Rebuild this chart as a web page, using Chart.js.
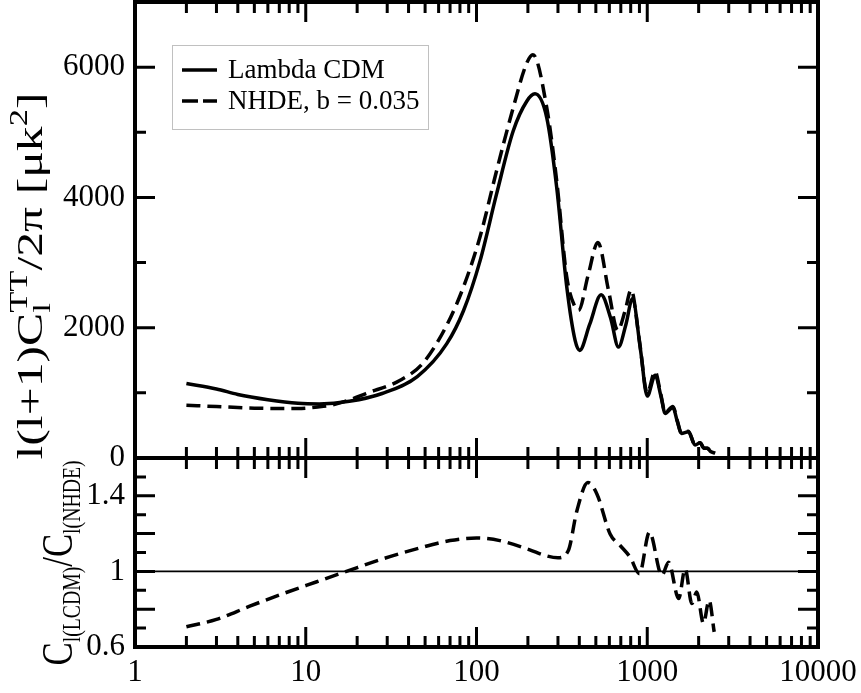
<!DOCTYPE html>
<html>
<head>
<meta charset="utf-8">
<script src="https://cdn.jsdelivr.net/npm/chart.js@4.4.1/dist/chart.umd.min.js"></script>
<style>
    body { margin: 0; background: #ffffff; }
    #wrap { width: 861px; height: 693px; }
</style>
</head>
<body>
<div id="wrap"><canvas id="chartjs-0" width="861" height="693"></canvas></div>
<script>
"use strict";

/* multipole l and l(l+1)C_l/2pi for Lambda CDM (solid) */
const ellLcdm = [2, 3, 4, 6, 9, 12, 18, 28, 45, 67, 84, 105, 131, 164, 197, 220, 258, 295, 338, 378, 402,
    460, 537, 610, 678, 750, 819, 914, 1000, 1113, 1200, 1274, 1413, 1500, 1585, 1741, 1907, 2040, 2150, 2250, 2350, 2500];
const clLcdm = [1143, 1060, 975, 895, 840, 830, 870, 990, 1250, 1755, 2264, 3030, 4050, 5019, 5477, 5590, 5222, 4151, 2620, 1805, 1652,
    2050, 2505, 2150, 1703, 2050, 2443, 1650, 950, 1270, 960, 684, 776, 560, 378, 403, 199, 234, 150, 150, 100, 75];

/* same for NHDE, b = 0.035 (dashed) */
const ellNhde = [2, 3, 5, 9, 12, 14, 18, 22.5, 35.5, 48.7, 67, 84, 105, 131, 164, 197, 214, 258, 295, 338, 378, 396,
    450, 514, 593, 672, 740, 805, 900, 1000, 1110, 1200, 1274, 1413, 1500, 1585, 1741, 1907, 2040, 2150, 2250, 2350, 2500];
const clNhde = [811, 790, 765, 760, 785, 810, 890, 990, 1190, 1460, 2040, 2630, 3400, 4406, 5375, 6064, 6192, 5375, 4253, 2774, 2314, 2266,
    2800, 3310, 2575, 1958, 2250, 2581, 1800, 1000, 1330, 980, 700, 790, 570, 380, 410, 200, 235, 150, 150, 100, 75];

/* ratio panel */
const ellRatio = [2, 3, 4.7, 7.4, 11.5, 17.3, 28.4, 44.5, 70, 100, 137, 205, 250, 300, 345, 387, 449, 507, 606, 694, 794,
    900, 1030, 1218, 1333, 1527, 1667, 1825, 1950, 2133, 2303, 2466];
const ratioVals = [0.707, 0.746, 0.816, 0.883, 0.944, 1.0, 1.067, 1.119, 1.163, 1.177, 1.163, 1.114, 1.085, 1.072, 1.11, 1.32, 1.47, 1.41, 1.198, 1.137, 1.075,
    0.988, 1.207, 0.979, 1.049, 0.856, 1.014, 0.83, 0.891, 0.725, 0.847, 0.68];
const unityLevel = 1;

/* axes */
const xRange = [1, 10000];
const xTickLabels = ["1", "10", "100", "1000", "10000"];
const topRange = [0, 7000];
const topTickLabels = ["0", "2000", "4000", "6000"];
const bottomRange = [0.6, 1.6];
const bottomTickLabels = ["0.6", "1", "1.4"];

const serif = "'Liberation Serif', 'Times New Roman', serif";

function pts(xs, ys) {
    return xs.map(function (v, i) { return { x: v, y: ys[i] }; });
}

/* draws text rotated 90deg, each group is drawn at the same advance (sub/sup stacks) */
function drawRotatedRich(ctx, groups, baseX, centerY, length) {
    ctx.save();
    let widths = groups.map(function (g) {
        let w = 0;
        g.forEach(function (p) {
            ctx.font = p.f + "px " + serif;
            w = Math.max(w, ctx.measureText(p.t).width);
        });
        return w;
    });
    let total = widths.reduce(function (a, b) { return a + b; }, 0);
    ctx.translate(baseX, centerY);
    ctx.rotate(-Math.PI / 2);
    ctx.scale(length / total, 1);
    ctx.fillStyle = "#000";
    ctx.textBaseline = "alphabetic";
    ctx.textAlign = "left";
    let pos = -total / 2;
    groups.forEach(function (g, i) {
        g.forEach(function (p) {
            ctx.font = p.f + "px " + serif;
            ctx.fillText(p.t, pos, p.dy || 0);
        });
        pos += widths[i];
    });
    ctx.restore();
}

/* frame, inward ticks on every edge, tick labels, titles and legend */
const framePlugin = {
    id: "frameTicks",
    afterDraw(chart) {
        const ctx = chart.ctx;
        const a = chart.chartArea;
        const xs = chart.scales.x, ys = chart.scales.y, yr = chart.scales.y2;
        const mid = ys.bottom;
        const major = 20, minor = 11;

        ctx.save();
        ctx.strokeStyle = "#000";
        ctx.lineWidth = 3;
        ctx.lineCap = "butt";

        // x ticks
        for (let d = xRange[0]; d <= xRange[1]; d *= 10) {
            for (let m = 1; m <= 9; m++) {
                let v = d * m;
                if (v > xRange[1]) break;
                let px = xs.getPixelForValue(v);
                let len = (m == 1) ? major : minor;
                ctx.beginPath();
                ctx.moveTo(px, a.top); ctx.lineTo(px, a.top + len);
                ctx.moveTo(px, mid - len); ctx.lineTo(px, mid + len);
                ctx.moveTo(px, a.bottom); ctx.lineTo(px, a.bottom - len);
                ctx.stroke();
            }
        }
        // top panel y ticks
        for (let v = topRange[0]; v <= topRange[1]; v += 1000) {
            let py = ys.getPixelForValue(v);
            let len = (v % 2000 == 0) ? major : minor;
            ctx.beginPath();
            ctx.moveTo(a.left, py); ctx.lineTo(a.left + len, py);
            ctx.moveTo(a.right, py); ctx.lineTo(a.right - len, py);
            ctx.stroke();
        }
        // ratio panel y ticks
        for (let i = 0; i <= 10; i++) {
            let py = yr.getPixelForValue(bottomRange[0] + i * 0.1);
            let len = (i % 2 == 0) ? major : minor;
            ctx.beginPath();
            ctx.moveTo(a.left, py); ctx.lineTo(a.left + len, py);
            ctx.moveTo(a.right, py); ctx.lineTo(a.right - len, py);
            ctx.stroke();
        }

        // frame and panel divider
        ctx.lineWidth = 4;
        ctx.strokeRect(a.left, a.top, a.right - a.left, a.bottom - a.top);
        ctx.beginPath();
        ctx.moveTo(a.left, mid); ctx.lineTo(a.right, mid);
        ctx.stroke();

        // tick labels
        ctx.fillStyle = "#000";
        ctx.font = "31px " + serif;
        ctx.textAlign = "center";
        ctx.textBaseline = "middle";
        xTickLabels.forEach(function (t) {
            ctx.fillText(t, xs.getPixelForValue(Number(t)), a.bottom + 26);
        });
        ctx.textAlign = "right";
        topTickLabels.forEach(function (t) {
            ctx.fillText(t, a.left - 10, ys.getPixelForValue(Number(t)));
        });
        bottomTickLabels.forEach(function (t) {
            ctx.fillText(t, a.left - 10, yr.getPixelForValue(Number(t)));
        });

        // axis titles
        drawRotatedRich(ctx, [
            [{ t: "l(l+1)C", f: 36 }],
            [{ t: "l", f: 25, dy: 8 }, { t: "TT", f: 25, dy: -15 }],
            [{ t: "/2\u03C0 [\u03BCk", f: 36 }],
            [{ t: "2", f: 25, dy: -15 }],
            [{ t: "]", f: 36 }]
        ], 42, 276, 367);
        drawRotatedRich(ctx, [
            [{ t: "C", f: 44 }],
            [{ t: "l(LCDM)", f: 25, dy: 8 }],
            [{ t: "/", f: 44 }],
            [{ t: "C", f: 44 }],
            [{ t: "l(NHDE)", f: 25, dy: 8 }]
        ], 72, 563, 205);

        // legend
        const lx = 172, ly = 45, lw = 256, lh = 84;
        ctx.lineWidth = 1;
        ctx.strokeStyle = "#c0c0c0";
        ctx.strokeRect(lx + 0.5, ly + 0.5, lw, lh);
        ctx.strokeStyle = "#000";
        ctx.font = "27px " + serif;
        ctx.textAlign = "left";
        ctx.textBaseline = "middle";
        [chart.data.datasets[0], chart.data.datasets[1]].forEach(function (ds, i) {
            let yy = ly + 25 + i * 31;
            ctx.lineWidth = ds.borderWidth;
            ctx.setLineDash(ds.borderDash ? [16, 5] : []);
            ctx.beginPath();
            ctx.moveTo(lx + 10, yy); ctx.lineTo(lx + 45, yy);
            ctx.stroke();
            ctx.setLineDash([]);
            ctx.fillText(ds.label, lx + 56, yy + 1);
        });
        ctx.restore();
    }
};

const ctx0 = document.getElementById("chartjs-0");
const myChart0 = new Chart(ctx0, {
    type: "line",
    data: {
        datasets: [
            { label: "Lambda CDM", data: pts(ellLcdm, clLcdm), yAxisID: "y",
              borderColor: "#000", borderWidth: 3.5, pointRadius: 0, fill: false, cubicInterpolationMode: "monotone" },
            { label: "NHDE, b = 0.035", data: pts(ellNhde, clNhde), yAxisID: "y",
              borderColor: "#000", borderWidth: 3.5, borderDash: [14, 7], pointRadius: 0, fill: false, cubicInterpolationMode: "monotone" },
            { label: "ratio", data: pts(ellRatio, ratioVals), yAxisID: "y2",
              borderColor: "#000", borderWidth: 3.5, borderDash: [14, 7], pointRadius: 0, fill: false, cubicInterpolationMode: "monotone" },
            { label: "unity", data: pts(xRange, [unityLevel, unityLevel]), yAxisID: "y2",
              borderColor: "#000", borderWidth: 1.8, pointRadius: 0, fill: false }
        ]
    },
    options: {
        responsive: false,
        animation: false,
        layout: { padding: { top: 2, right: 43, left: 0, bottom: 0 } },
        plugins: { legend: { display: false }, tooltip: { enabled: false } },
        scales: {
            x: {
                type: "logarithmic", min: xRange[0], max: xRange[1],
                ticks: { display: false }, grid: { display: false }, border: { display: false },
                afterFit: function (s) { s.height = 46; }
            },
            y2: {
                type: "linear", position: "left", min: bottomRange[0], max: bottomRange[1],
                stack: "cl", stackWeight: 189,
                ticks: { display: false }, grid: { display: false }, border: { display: false },
                afterFit: function (s) { s.width = 135; }
            },
            y: {
                type: "linear", position: "left", min: topRange[0], max: topRange[1],
                stack: "cl", stackWeight: 456,
                ticks: { display: false }, grid: { display: false }, border: { display: false },
                afterFit: function (s) { s.width = 135; }
            }
        }
    },
    plugins: [framePlugin]
});
</script>
</body>
</html>
